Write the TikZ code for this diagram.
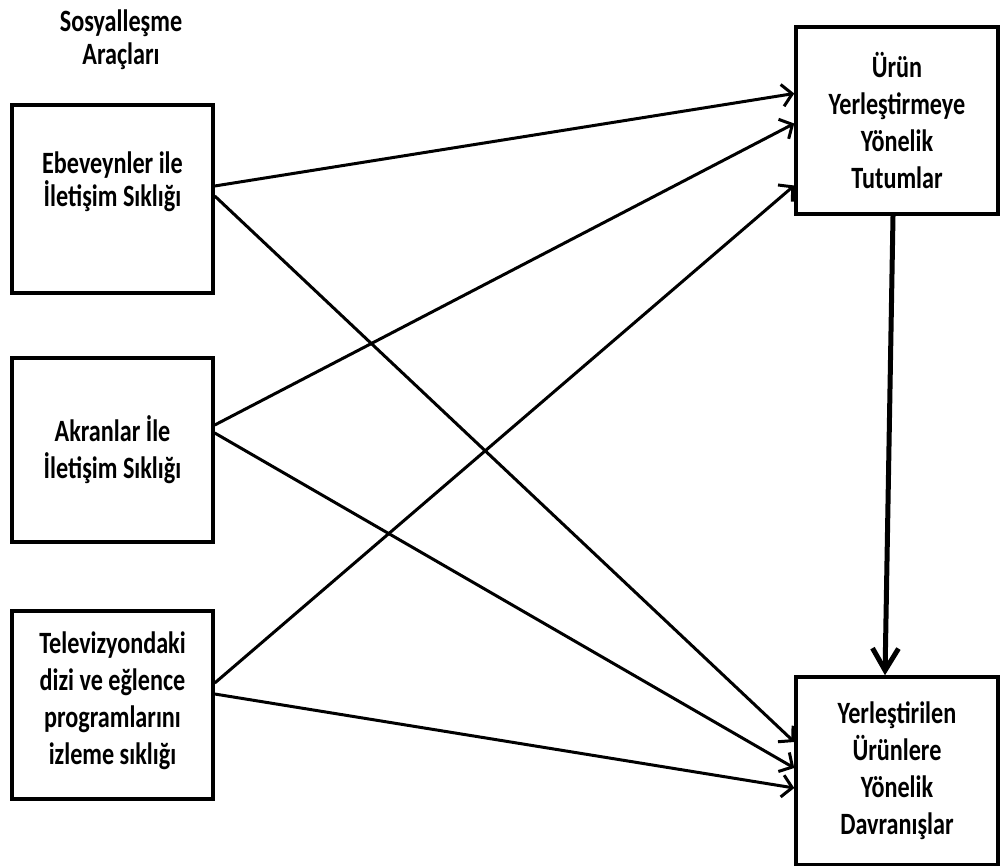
\documentclass[tikz,border=0pt]{standalone}
\usepackage{fontspec}
\setmainfont{Carlito}[FakeStretch=0.78]
\usetikzlibrary{math,arrows.meta}

\tikzset{
  kutu/.style={draw, line width=3.5pt, minimum width=201pt, minimum height=188pt,
    align=center, font=\bfseries\fontsize{31}{37}\selectfont},
  ok/.style={line width=3pt, -{Straight Barb[length=10pt,width=22pt]}},
}

\begin{document}
\begin{tikzpicture}[x=1pt,y=-1pt]

\tikzmath{
\sol = 112.5;
\sag = 897;
}

\useasboundingbox (0,0) rectangle (1000,866);

\node[align=center, font=\bfseries\fontsize{31}{33}\selectfont] (baslik) at (121,40) {Sosyalleşme\\Araçları};

\node[kutu, font=\bfseries\fontsize{31}{33}\selectfont, text depth=40pt] (ebeveyn) at (\sol,199) {Ebeveynler ile\\İletişim Sıklığı};
\node[kutu, minimum height=184pt] (akran) at (\sol,450) {Akranlar İle\\İletişim Sıklığı};
\node[kutu, text depth=14pt] (tv) at (\sol,705) {Televizyondaki\\dizi ve eğlence\\programlarını\\izleme sıklığı};

\node[kutu, minimum width=202pt, minimum height=187pt] (tutum) at (\sag,120.5) {Ürün\\Yerleştirmeye\\Yönelik\\Tutumlar};
\node[kutu, minimum width=202pt] (davranis) at (\sag,771) {Yerleştirilen\\Ürünlere\\Yönelik\\Davranışlar};

\draw[ok] ([yshift=13pt]ebeveyn.east) -- ([yshift=27pt]tutum.west);
\draw[ok] ([yshift=3pt]ebeveyn.east) -- ([yshift=29pt]davranis.west);
\draw[ok] ([yshift=25pt]akran.east) -- ([yshift=-3pt]tutum.west);
\draw[ok] ([yshift=17pt]akran.east) -- ([yshift=3pt]davranis.west);
\draw[ok] ([yshift=22pt]tv.east) -- ([yshift=-65pt]tutum.west);
\draw[ok] ([yshift=11pt]tv.east) -- ([yshift=-17pt]davranis.west);

\draw[line width=5pt, -{Straight Barb[length=22pt,width=26pt]}] ([xshift=-4pt]tutum.south) -- ([xshift=-12pt]davranis.north);

\end{tikzpicture}
\end{document}
